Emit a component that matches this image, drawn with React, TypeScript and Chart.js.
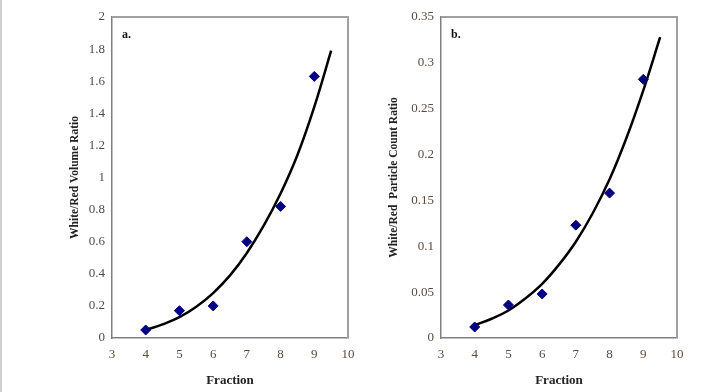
import React, { useEffect, useRef } from "react";
import { Chart, registerables } from "chart.js";
Chart.register(...registerables);

const fractions = [4, 5, 6, 7, 8, 9];
const volumeRatio = [0.05, 0.17, 0.2, 0.6, 0.82, 1.63];
const countRatio = [0.012, 0.036, 0.048, 0.123, 0.158, 0.282];

const trendX = [4, 4.5, 5, 5.5, 6, 6.5, 7, 7.5, 8, 8.5, 9, 9.5];
const volumeTrend = [0.05, 0.085, 0.13, 0.195, 0.28, 0.39, 0.53, 0.7, 0.9, 1.14, 1.44, 1.79];
const countTrend = [0.014, 0.021, 0.03, 0.043, 0.059, 0.08, 0.105, 0.136, 0.173, 0.218, 0.27, 0.328];

const xTicks = [3, 4, 5, 6, 7, 8, 9, 10];
const volumeTicks = [0, 0.2, 0.4, 0.6, 0.8, 1, 1.2, 1.4, 1.6, 1.8, 2];
const countTicks = [0, 0.05, 0.1, 0.15, 0.2, 0.25, 0.3, 0.35];

const FONT = "'Liberation Serif', 'Times New Roman', serif";

type PanelProps = {
  label: string;
  yTitle: string;
  points: number[];
  trend: number[];
  yTicks: number[];
  yMax: number;
  left: number;
  width: number;
  padLeft: number;
  yAxisWidth: number;
  padRight: number;
};

const fmt = (v: any) => String(Math.round(Number(v) * 1000) / 1000);

function Panel(p: PanelProps) {
  const ref = useRef<HTMLCanvasElement>(null);
  useEffect(() => {
    if (!ref.current) return;
    const frame = {
      id: "frame",
      afterDraw(chart: any) {
        const { ctx, chartArea } = chart;
        ctx.save();
        ctx.strokeStyle = "#a0a0a0";
        ctx.lineWidth = 2;
        ctx.beginPath();
        ctx.moveTo(chartArea.left, chartArea.top);
        ctx.lineTo(chartArea.right, chartArea.top);
        ctx.lineTo(chartArea.right, chartArea.bottom);
        ctx.stroke();
        ctx.fillStyle = "#111";
        ctx.font = `bold 12px ${FONT}`;
        ctx.textBaseline = "middle";
        ctx.fillText(p.label, chartArea.left + 10, chartArea.top + 18);
        ctx.restore();
      },
    };
    const chart = new Chart(ref.current, {
      type: "scatter",
      data: {
        datasets: [
          {
            data: fractions.map((x, i) => ({ x, y: p.points[i] })),
            pointStyle: "rectRot",
            pointRadius: 5,
            backgroundColor: "#000080",
            borderColor: "#000080",
            showLine: false,
            order: 1,
          },
          {
            data: trendX.map((x, i) => ({ x, y: p.trend[i] })),
            showLine: true,
            borderColor: "#000",
            borderWidth: 2.5,
            pointRadius: 0,
            tension: 0.4,
            order: 2,
          },
        ],
      },
      options: {
        animation: false,
        responsive: false,
        events: [],
        layout: { padding: { left: p.padLeft, right: p.padRight, top: 17, bottom: 4 } },
        plugins: { legend: { display: false }, tooltip: { enabled: false } },
        scales: {
          x: {
            type: "linear",
            min: 3,
            max: 10,
            afterBuildTicks: (s: any) => {
              s.ticks = xTicks.map((v) => ({ value: v }));
            },
            afterFit: (s: any) => {
              s.height = 50;
            },
            grid: { display: false, drawTicks: true, tickLength: 4, color: "#808080" },
            border: { display: true, color: "#808080", width: 1.5 },
            ticks: { color: "#5a4a3e", font: { family: FONT, size: 13 }, padding: 5, maxRotation: 0, callback: fmt },
            title: {
              display: true,
              text: "Fraction",
              color: "#222",
              font: { family: FONT, size: 13, weight: "bold" },
              padding: { top: 2, bottom: 0 },
            },
          },
          y: {
            type: "linear",
            min: 0,
            max: p.yMax,
            afterBuildTicks: (s: any) => {
              s.ticks = p.yTicks.map((v) => ({ value: v }));
            },
            afterFit: (s: any) => {
              s.width = p.yAxisWidth;
            },
            grid: { display: false, drawTicks: true, tickLength: 4, color: "#808080" },
            border: { display: true, color: "#808080", width: 1.5 },
            ticks: { color: "#5a4a3e", font: { family: FONT, size: 13 }, padding: 3, callback: fmt },
            title: {
              display: true,
              text: p.yTitle,
              color: "#222",
              font: { family: FONT, size: 11.5, weight: "bold" },
              padding: 0,
            },
          },
        },
      } as any,
      plugins: [frame],
    });
    return () => chart.destroy();
  }, []);
  return (
    <canvas
      ref={ref}
      width={p.width}
      height={392}
      style={{ position: "absolute", left: p.left, top: 0, width: p.width, height: 392 }}
    />
  );
}

export default function App() {
  return (
    <div style={{ position: "absolute", left: 0, top: 0, width: 723, height: 392, background: "#fff", overflow: "hidden" }}>
      <div style={{ position: "absolute", left: 0, top: 0, width: 2, height: 392, background: "#d0d0d0" }} />
      <Panel
        label="a."
        yTitle="White/Red Volume Ratio"
        points={volumeRatio}
        trend={volumeTrend}
        yTicks={volumeTicks}
        yMax={2}
        left={0}
        width={362}
        padLeft={68}
        yAxisWidth={44}
        padRight={14}
      />
      <Panel
        label="b."
        yTitle="White/Red  Particle Count Ratio"
        points={countRatio}
        trend={countTrend}
        yTicks={countTicks}
        yMax={0.35}
        left={362}
        width={361}
        padLeft={25}
        yAxisWidth={54}
        padRight={46}
      />
    </div>
  );
}
